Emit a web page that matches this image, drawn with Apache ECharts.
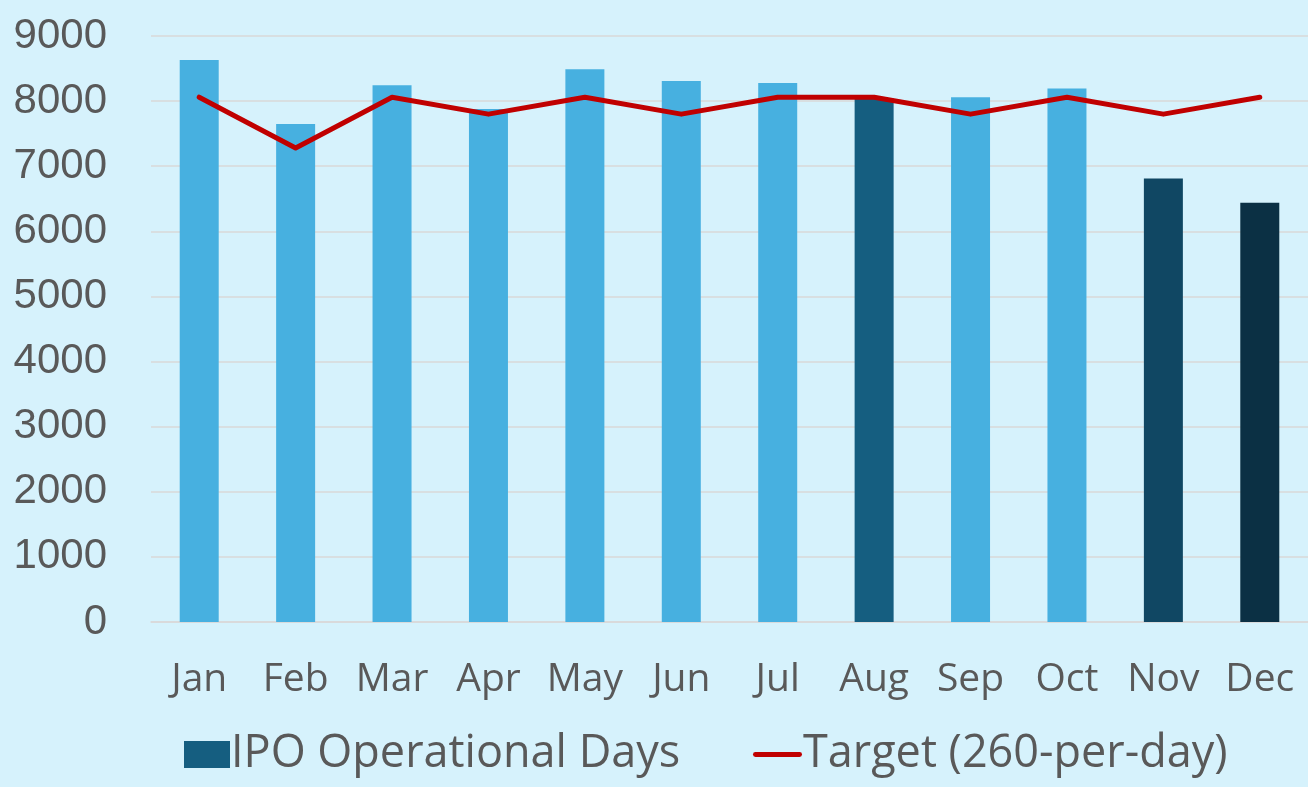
<!DOCTYPE html>
<html>
<head>
<meta charset="utf-8">
<script src="https://cdn.jsdelivr.net/npm/echarts@6/dist/echarts.min.js"></script>
<style>
html,body{margin:0;padding:0;background:#D6F2FC;}
#c{width:1308px;height:787px;}
</style>
</head>
<body>
<div id="c"></div>
<script>
const categories = ['Jan','Feb','Mar','Apr','May','Jun','Jul','Aug','Sep','Oct','Nov','Dec'];
const operationalDays = [8630, 7650, 8245, 7880, 8490, 8310, 8280, 8040, 8060, 8195, 6810, 6440];
const target = [8060, 7280, 8060, 7800, 8060, 7800, 8060, 8060, 7800, 8060, 7800, 8060];
const barColors = ['#47B0E0','#47B0E0','#47B0E0','#47B0E0','#47B0E0','#47B0E0','#47B0E0','#155E80','#47B0E0','#47B0E0','#104763','#0B3044'];

const legendText = {fontSize: 45, color: '#595959', fontFamily: 'Open Sans', padding: [0,0,0,-4]};
const chart = echarts.init(document.getElementById('c'), null, {renderer:'canvas'});
chart.setOption({
  backgroundColor: '#D6F2FC',
  animation: false,
  textStyle: {fontFamily: 'Open Sans'},
  grid: {left: 151, right: 0, top: 36, bottom: 165, containLabel: false},
  legend: [
    {
      left: 179,
      top: 727,
      itemWidth: 46,
      itemHeight: 27,
      textStyle: legendText,
      data: [{name: 'IPO Operational Days', icon: 'rect'}]
    },
    {
      left: 748,
      top: 727,
      itemWidth: 49,
      itemHeight: 27,
      textStyle: legendText,
      data: [{name: 'Target (260-per-day)', icon: 'path://M5,0 L95,0 A5,5 0 0 1 95,10 L5,10 A5,5 0 0 1 5,0 Z', itemStyle: {color: '#C00000'}}]
    }
  ],
  xAxis: {
    type: 'category',
    data: categories,
    axisLine: {show: true, lineStyle: {color: '#D9D9D9', width: 1.5}},
    axisTick: {show: false},
    axisLabel: {fontSize: 39, color: '#595959', margin: 38, interval: 0, fontFamily: 'Open Sans'}
  },
  yAxis: {
    type: 'value',
    min: 0,
    max: 9000,
    interval: 1000,
    axisLine: {show: false},
    axisTick: {show: false},
    splitLine: {lineStyle: {color: '#D9D9D9', width: 1.5}},
    axisLabel: {fontSize: 42, color: '#595959', margin: 44, fontFamily: 'Liberation Sans', formatter: v => String(v)}
  },
  series: [
    {
      name: 'IPO Operational Days',
      type: 'bar',
      barWidth: 39,
      itemStyle: {color: '#155E80'},
      data: operationalDays.map((v,i) => ({value: v, itemStyle: {color: barColors[i]}}))
    },
    {
      name: 'Target (260-per-day)',
      type: 'line',
      data: target,
      symbol: 'none',
      lineStyle: {color: '#C00000', width: 5, cap: 'round', join: 'round'},
      itemStyle: {color: '#C00000'}
    }
  ]
});
</script>
</body>
</html>
